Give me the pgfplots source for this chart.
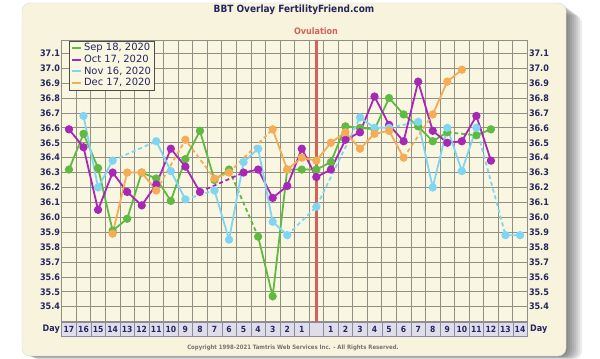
\documentclass[border=0pt]{standalone}
\usepackage{pgfplots}
\usepackage{pgfplotstable}
\pgfplotsset{compat=1.18}
\usepackage{fontspec}
\setmainfont{DejaVu Sans}
\newfontfamily\cond{DejaVu Sans Condensed}
\definecolor{cream}{RGB}{247,243,220}
\definecolor{plotbg}{RGB}{249,246,226}
\definecolor{gridc}{RGB}{145,143,132}
\definecolor{navy}{RGB}{38,38,98}
\definecolor{cgreen}{RGB}{96,186,66}
\definecolor{cpurple}{RGB}{166,40,180}
\definecolor{ccyan}{RGB}{128,214,242}
\definecolor{corange}{RGB}{245,172,84}
\definecolor{ovred}{RGB}{212,98,88}
\definecolor{daycell}{RGB}{222,221,233}
\definecolor{dayborder}{RGB}{140,138,160}

\pgfplotstableread{
x y
0 36.32
1 36.56
2 36.33
3 35.91
4 35.99
5 36.30
6 36.26
7 36.11
8 36.39
9 36.58
10 36.25
11 36.32
12 nan
13 35.87
14 35.47
15 36.32
16 36.32
17 36.32
18 36.37
19 36.61
20 36.60
21 36.59
22 36.80
23 36.69
24 36.61
25 36.51
26 36.57
27 nan
28 36.55
29 36.59
}\greendata

\pgfplotstableread{
x y
0 36.59
1 36.47
2 36.05
3 36.30
4 36.17
5 36.08
6 36.22
7 36.46
8 36.34
9 36.17
10 nan
11 nan
12 36.30
13 36.32
14 36.13
15 36.21
16 36.46
17 36.27
18 36.32
19 36.52
20 36.57
21 36.81
22 36.62
23 36.51
24 36.91
25 36.58
26 36.50
27 36.51
28 36.68
29 36.38
}\purpledata

\pgfplotstableread{
x y
1 36.68
2 36.20
3 36.38
4 nan
5 nan
6 36.51
7 36.31
8 36.12
9 nan
10 36.18
11 35.85
12 36.37
13 36.46
14 35.97
15 35.88
16 nan
17 36.07
18 nan
19 nan
20 36.67
21 36.60
22 36.60
23 nan
24 36.64
25 36.20
26 36.60
27 36.31
28 36.60
29 nan
30 35.88
31 35.88
}\cyandata

\pgfplotstableread{
x y
3 35.89
4 36.30
5 36.30
6 36.18
7 nan
8 36.52
9 nan
10 36.26
11 36.30
12 nan
13 nan
14 36.59
15 36.32
16 36.40
17 36.38
18 36.50
19 36.57
20 36.46
21 36.56
22 36.58
23 36.40
24 nan
25 36.69
26 36.91
27 36.99
}\orangedata

\begin{document}
\begin{tikzpicture}[x=1bp,y=1bp]
\fill[white] (0,0) rectangle (600,358);
% shadow
\begin{scope}
\clip (0,0) rectangle (600,358);
\foreach \i in {1,...,8}{
  \fill[black, opacity=0.07, rounded corners=8bp] (22+\i*1.2,2-\i*0.4) rectangle (566+\i*2,355-\i*1.5);
}
\end{scope}
\fill[cream, rounded corners=8bp] (22,2) rectangle (566,355);
\draw[black!15, rounded corners=8bp, line width=0.4bp] (22,2) rectangle (566,355);

\node[anchor=base, text=navy, font=\cond\bfseries\fontsize{10}{12}\selectfont] at (294,345.3) {BBT Overlay FertilityFriend.com};
\node[anchor=base, text=ovred, font=\cond\bfseries\fontsize{9}{11}\selectfont] at (316,323.5) {Ovulation};
\node[anchor=base, text=black!55, font=\cond\bfseries\fontsize{6}{7}\selectfont] at (293,8.5) {Copyright 1998-2021 Tamtris Web Services Inc. - All Rights Reserved.};
\node[anchor=east, text=navy, font=\cond\bfseries\fontsize{9}{11}\selectfont, inner sep=0pt] at (60,29) {Day};
\node[anchor=west, text=navy, font=\cond\bfseries\fontsize{9}{11}\selectfont, inner sep=0pt] at (530,29) {Day};

\begin{axis}[
  at={(61.7bp,36.4bp)}, anchor=south west,
  scale only axis, width=465.6bp, height=281.7bp,
  xmin=-0.5, xmax=31.5, ymin=35.3, ymax=37.19,
  axis background/.style={fill=plotbg},
  axis line style={gridc, line width=0.7bp},
  xtick={0,...,31},
  xticklabels={17,16,15,14,13,12,11,10,9,8,7,6,5,4,3,2,1,{},1,2,3,4,5,6,7,8,9,10,11,12,13,14},
  xticklabel style={font=\cond\bfseries\fontsize{8.5}{10}\selectfont, text=navy, fill=daycell, draw=dayborder, line width=0.5bp, minimum width=14.55bp, minimum height=14.5bp, inner sep=0pt, anchor=north},
  minor xtick={-0.5,0.5,...,31.5},
  xminorgrids=true, xmajorgrids=false, ymajorgrids=true,
  grid style={gridc, line width=0.7bp},
  minor grid style={gridc, line width=0.7bp},
  major tick length=0pt, minor tick length=0pt,
  ytick={35.4,35.5,35.6,35.7,35.8,35.9,36.0,36.1,36.2,36.3,36.4,36.5,36.6,36.7,36.8,36.9,37.0,37.1},
  yticklabel style={font=\cond\bfseries\fontsize{9}{11}\selectfont, text=navy, inner xsep=1.5bp, /pgf/number format/.cd, fixed, fixed zerofill, precision=1, assume math mode=true},
  unbounded coords=jump,
  clip=false,
  legend style={at={(rel axis cs:0.0157,0.997)}, anchor=north west, font=\fontsize{10}{10}\selectfont, draw=black!70, line width=0.6bp, fill=plotbg, inner xsep=1.5bp, inner ysep=0.5bp, row sep=-1.2bp, cells={anchor=west, text=navy}},
  legend image code/.code={\draw[#1, line width=2.2bp] (0bp,0bp) -- (9bp,0bp);},
  every axis plot/.append style={line width=1.8bp},
]
\addplot[ovred, line width=2.4bp, forget plot] coordinates {(17,35.3) (17,37.19)};

% green
\addplot[cgreen, dash pattern=on 4bp off 3bp, forget plot] coordinates {(11,36.32) (13,35.87)};
\addplot[cgreen, dash pattern=on 4bp off 3bp, forget plot] coordinates {(26,36.57) (28,36.55)};
\addplot[cgreen, mark=*, mark size=3.2bp, mark options={solid}] table[x=x,y=y] {\greendata};
\addlegendentry{Sep 18, 2020}

% purple
\addplot[cpurple, dash pattern=on 4bp off 3bp, forget plot] coordinates {(9,36.17) (12,36.30)};
\addplot[cpurple, mark=*, mark size=3.2bp, mark options={solid}] table[x=x,y=y] {\purpledata};
\addlegendentry{Oct 17, 2020}

% cyan
\addplot[ccyan, dash pattern=on 4bp off 3bp, forget plot] coordinates {(3,36.38) (6,36.51)};
\addplot[ccyan, dash pattern=on 4bp off 3bp, forget plot] coordinates {(8,36.12) (10,36.18)};
\addplot[ccyan, dash pattern=on 4bp off 3bp, forget plot] coordinates {(15,35.88) (17,36.07) (20,36.67)};
\addplot[ccyan, dash pattern=on 4bp off 3bp, forget plot] coordinates {(22,36.60) (24,36.64)};
\addplot[ccyan, dash pattern=on 4bp off 3bp, forget plot] coordinates {(28,36.60) (30,35.88)};
\addplot[ccyan, mark=*, mark size=3.2bp, mark options={solid}] table[x=x,y=y] {\cyandata};
\addlegendentry{Nov 16, 2020}

% orange
\addplot[corange, dash pattern=on 4bp off 3bp, forget plot] coordinates {(6,36.18) (8,36.52) (10,36.26)};
\addplot[corange, dash pattern=on 4bp off 3bp, forget plot] coordinates {(11,36.30) (14,36.59)};
\addplot[corange, dash pattern=on 4bp off 3bp, forget plot] coordinates {(23,36.40) (25,36.69)};
\addplot[corange, mark=*, mark size=3.2bp, mark options={solid}] table[x=x,y=y] {\orangedata};
\addlegendentry{Dec 17, 2020}
\end{axis}

\begin{axis}[
  at={(61.7bp,36.4bp)}, anchor=south west,
  scale only axis, width=465.6bp, height=281.7bp,
  xmin=-0.5, xmax=31.5, ymin=35.3, ymax=37.19,
  hide x axis,
  axis y line*=right,
  axis line style={draw=none},
  major tick length=0pt,
  ytick={35.4,35.5,35.6,35.7,35.8,35.9,36.0,36.1,36.2,36.3,36.4,36.5,36.6,36.7,36.8,36.9,37.0,37.1},
  yticklabel style={font=\cond\bfseries\fontsize{9}{11}\selectfont, text=navy, inner xsep=1.5bp, /pgf/number format/.cd, fixed, fixed zerofill, precision=1, assume math mode=true},
]
\end{axis}
\end{tikzpicture}
\end{document}
